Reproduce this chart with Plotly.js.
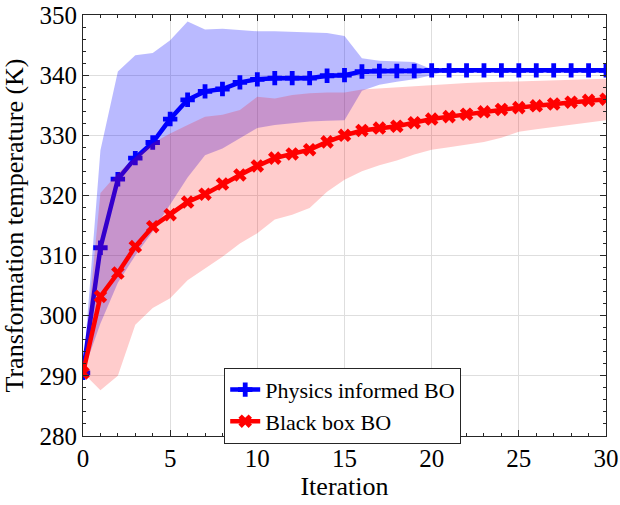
<!DOCTYPE html>
<html>
<head>
<meta charset="utf-8">
<script src="https://cdn.plot.ly/plotly-3.0.1.min.js"></script>
<style>html,body{margin:0;padding:0;background:#fff;}#chart{width:620px;height:505px;}</style>
</head>
<body>
<div id="chart"></div>
<script>
const iterations = [0,1,2,3,4,5,6,7,8,9,10,11,12,13,14,15,16,17,18,19,20,21,22,23,24,25,26,27,28,29,30];

const physicsMean = [290.5,311.3,322.7,326.2,328.8,332.7,335.9,337.3,337.7,338.8,339.3,339.5,339.5,339.5,339.9,340.0,340.6,340.7,340.7,340.7,340.8,340.8,340.8,340.8,340.8,340.8,340.8,340.8,340.8,340.8,340.8];
const physicsUpper = [290.5,327.5,340.6,343.3,343.7,345.8,348.9,347.6,347.7,347.5,347.3,347.3,347.2,347.1,347.0,346.5,342.8,342.4,342.3,342.2,341.0,340.8,340.8,340.8,340.8,340.8,340.8,340.8,340.8,340.8,340.8];
const physicsLower = [290.5,298.7,305.5,310.0,314.0,318.5,323.0,326.7,327.8,329.5,331.2,331.7,332.0,332.3,332.4,332.5,337.4,338.4,338.9,339.3,340.0,340.8,340.8,340.8,340.8,340.8,340.8,340.8,340.8,340.8,340.8];

const blackMean = [290.5,303.2,307.1,311.5,314.8,316.8,318.9,320.2,321.9,323.4,324.9,326.2,326.9,327.6,328.9,330.0,330.8,331.2,331.5,332.1,332.7,333.1,333.5,333.9,334.3,334.6,334.9,335.2,335.5,335.8,336.0];
const blackUpper = [290.5,320.4,323.7,326.4,328.7,330.3,331.7,333.1,333.4,334.2,336.4,336.1,336.7,337.0,337.1,337.1,337.6,337.8,338.0,338.2,338.4,338.6,338.7,338.8,338.9,339.0,339.1,339.2,339.3,339.3,339.4];
const blackLower = [290.5,287.6,290.0,298.5,301.3,302.9,305.9,307.9,309.8,312.0,313.7,316.0,316.8,317.9,320.6,322.6,324.0,325.0,325.8,326.8,327.6,328.0,328.4,328.9,329.6,330.6,331.0,331.4,331.8,332.2,332.5];

const seriesNames = ["Physics informed BO", "Black box BO"];
const xTickVals = [0,5,10,15,20,25,30];
const yTickVals = [280,290,300,310,320,330,340,350];

const FONT = "Liberation Serif";

const traces = [
  {x: iterations, y: physicsUpper, mode: 'lines', line: {width: 0, color: 'rgba(0,0,255,0)'}, showlegend: false, hoverinfo: 'skip'},
  {x: iterations, y: physicsLower, mode: 'lines', line: {width: 0, color: 'rgba(0,0,255,0)'}, fill: 'tonexty', fillcolor: 'rgba(0,0,255,0.27)', showlegend: false, hoverinfo: 'skip'},
  {x: iterations, y: physicsMean, mode: 'lines+markers', name: seriesNames[0],
   line: {color: 'rgb(0,0,255)', width: 4.5},
   marker: {symbol: 'cross', size: 12, color: 'rgb(0,0,255)'}},
  {x: iterations, y: blackUpper, mode: 'lines', line: {width: 0, color: 'rgba(255,0,0,0)'}, showlegend: false, hoverinfo: 'skip'},
  {x: iterations, y: blackLower, mode: 'lines', line: {width: 0, color: 'rgba(255,0,0,0)'}, fill: 'tonexty', fillcolor: 'rgba(255,0,0,0.2)', showlegend: false, hoverinfo: 'skip'},
  {x: iterations, y: blackMean, mode: 'lines+markers', name: seriesNames[1],
   line: {color: 'rgb(255,0,0)', width: 4.5},
   marker: {symbol: 'x', size: 12, color: 'rgb(255,0,0)'}}
];

const layout = {
  width: 620, height: 505,
  margin: {l: 83, r: 14, t: 15, b: 69},
  paper_bgcolor: '#ffffff', plot_bgcolor: '#ffffff',
  font: {family: FONT, size: 25, color: '#000000'},
  xaxis: {
    range: [0, 30], tickvals: xTickVals,
    showline: true, linecolor: '#262626', linewidth: 1, mirror: 'allticks',
    ticks: 'inside', ticklen: 6, tickcolor: '#262626',
    showgrid: true, gridcolor: '#dedede', zeroline: false,
    minor: {dtick: 1, ticks: 'inside', ticklen: 3, tickcolor: '#262626', showgrid: false},
    tickfont: {family: FONT, size: 25, color: '#000000'},
    title: {text: 'Iteration', font: {family: FONT, size: 26, color: '#000000'}, standoff: 4}
  },
  yaxis: {
    range: [280, 350], tickvals: yTickVals,
    showline: true, linecolor: '#262626', linewidth: 1, mirror: 'allticks',
    ticks: 'inside', ticklen: 6, tickcolor: '#262626',
    showgrid: true, gridcolor: '#dedede', zeroline: false,
    minor: {dtick: 2, ticks: 'inside', ticklen: 3, tickcolor: '#262626', showgrid: false},
    tickfont: {family: FONT, size: 25, color: '#000000'},
    title: {text: 'Transformation temperature (K)', font: {family: FONT, size: 26, color: '#000000'}, standoff: 8}
  },
  legend: {
    x: 0.27, y: 0.162, xanchor: 'left', yanchor: 'top', traceorder: 'normal',
    bgcolor: '#ffffff', bordercolor: '#262626', borderwidth: 1,
    font: {family: FONT, size: 22, color: '#000000'}
  },
  showlegend: true
};

Plotly.newPlot('chart', traces, layout, {staticPlot: true}).then(function () {
  document.querySelectorAll('#chart .xtick text, #chart .ytick text, #chart .legendtext').forEach(function (e) {
    e.style.setProperty('font-family', '"Liberation Serif", "Times New Roman", serif', 'important');
  });
});
</script>
</body>
</html>
